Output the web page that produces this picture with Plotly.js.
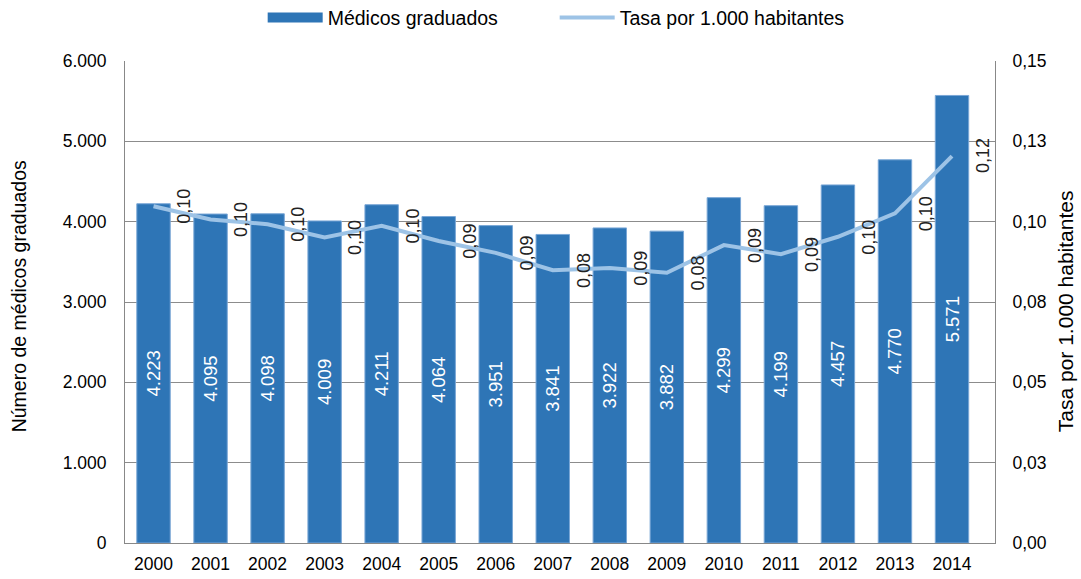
<!DOCTYPE html>
<html>
<head>
<meta charset="utf-8">
<script src="https://cdn.plot.ly/plotly-3.0.1.min.js"></script>
<style>
  body { margin: 0; background: #fff; }
  #chart { width: 1081px; height: 579px; }
</style>
</head>
<body>
<div id="chart"></div>
<script>
// Datos: años, médicos graduados y tasa por 1.000 habitantes
const years = ['2000', '2001', '2002', '2003', '2004', '2005', '2006', '2007',
               '2008', '2009', '2010', '2011', '2012', '2013', '2014'];
const graduados = [4223, 4095, 4098, 4009, 4211, 4064, 3951, 3841,
                   3922, 3882, 4299, 4199, 4457, 4770, 5571];
const tasa = [0.1048, 0.1007, 0.0992, 0.0951, 0.0987, 0.0940, 0.0903, 0.0849,
              0.0856, 0.0841, 0.0927, 0.0899, 0.0953, 0.1026, 0.1204];

// Ticks eje derecho (como en Excel, redondeados a 2 decimales)
const rightTicks = [0, 0.025, 0.05, 0.075, 0.1, 0.125, 0.15];
const rightTickText = ['0,00', '0,03', '0,05', '0,08', '0,10', '0,13', '0,15'];

const fmtMiles = n => String(n).replace(/\B(?=(\d{3})+(?!\d))/g, '.');
const fmtTasa = v => v.toFixed(2).replace('.', ',');

const FONT = '"Liberation Sans", Arial, sans-serif';
const BAR_COLOR = '#2e75b6';
const LINE_COLOR = '#9dc3e6';

const traceBar = {
    x: years,
    y: graduados,
    type: 'bar',
    name: 'Médicos graduados',
    showlegend: false,
    marker: { color: BAR_COLOR, line: { color: '#7aa7d6', width: 1 } },
    text: graduados.map(fmtMiles),
    textposition: 'inside',
    insidetextanchor: 'middle',
    textangle: -90,
    constraintext: 'none',
    insidetextfont: { family: FONT, size: 18.5, color: '#ffffff' },
    hoverinfo: 'x+y'
};

// solo para la leyenda: rectángulo ancho como en Excel
const traceBarLegend = {
    x: [null],
    y: [null],
    type: 'scatter',
    mode: 'lines',
    name: 'Médicos graduados',
    line: { color: BAR_COLOR, width: 11 },
    hoverinfo: 'skip'
};

const traceLine = {
    x: years,
    y: tasa,
    type: 'scatter',
    mode: 'lines',
    name: 'Tasa por 1.000 habitantes',
    line: { color: LINE_COLOR, width: 4 },
    yaxis: 'y2'
};

// etiquetas de la línea (giradas, a la derecha del punto)
const lineLabels = years.map((yr, i) => ({
    x: i, y: tasa[i], xref: 'x', yref: 'y2',
    text: fmtTasa(tasa[i]),
    textangle: -90, showarrow: false, xshift: 31,
    xanchor: 'center', yanchor: 'middle',
    font: { family: FONT, size: 18, color: '#222222' }
}));

const axisTitles = [
    {
        text: 'Número de médicos graduados', xref: 'paper', yref: 'paper',
        x: -0.1217, y: 0.512, xanchor: 'center', yanchor: 'middle',
        textangle: -90, showarrow: false,
        font: { family: FONT, size: 19.5, color: '#000000' }
    },
    {
        text: 'Tasa por 1.000 habitantes', xref: 'paper', yref: 'paper',
        x: 1.0805, y: 0.481, xanchor: 'center', yanchor: 'middle',
        textangle: -90, showarrow: false,
        font: { family: FONT, size: 21, color: '#000000' }
    }
];

const tickFont = { family: FONT, size: 17.5, color: '#000000' };

const layout = {
    width: 1081,
    height: 579,
    separators: ',.',
    font: { family: FONT, size: 17, color: '#000000' },
    paper_bgcolor: '#ffffff',
    plot_bgcolor: '#ffffff',
    margin: { l: 125, r: 86, t: 61, b: 36 },
    bargap: 0.414,
    showlegend: true,
    legend: {
        orientation: 'h',
        xref: 'container', yref: 'container',
        x: 0.243, xanchor: 'left', y: 0.969, yanchor: 'middle',
        font: { family: FONT, size: 19.5, color: '#000000' },
        itemwidth: 55, entrywidth: 222, entrywidthmode: 'pixels',
        traceorder: 'normal', bgcolor: 'rgba(0,0,0,0)'
    },
    xaxis: {
        type: 'category',
        showline: true, linecolor: '#888888', linewidth: 1,
        ticks: '', tickfont: tickFont, ticklabelstandoff: 5,
        showgrid: false
    },
    yaxis: {
        range: [0, 6000], dtick: 1000, tickformat: ',d',
        showline: true, linecolor: '#888888', linewidth: 1,
        gridcolor: '#8c8c8c', gridwidth: 1, zeroline: false,
        ticks: '', tickfont: tickFont, ticklabelstandoff: 14
    },
    yaxis2: {
        overlaying: 'y', side: 'right', range: [0, 0.15],
        tickvals: rightTicks, ticktext: rightTickText,
        showline: true, linecolor: '#888888', linewidth: 1,
        showgrid: false, zeroline: false, ticks: '',
        tickfont: tickFont, ticklabelstandoff: 13
    },
    annotations: lineLabels.concat(axisTitles)
};

Plotly.newPlot('chart', [traceBar, traceBarLegend, traceLine], layout,
    { staticPlot: true, displayModeBar: false });
</script>
</body>
</html>
